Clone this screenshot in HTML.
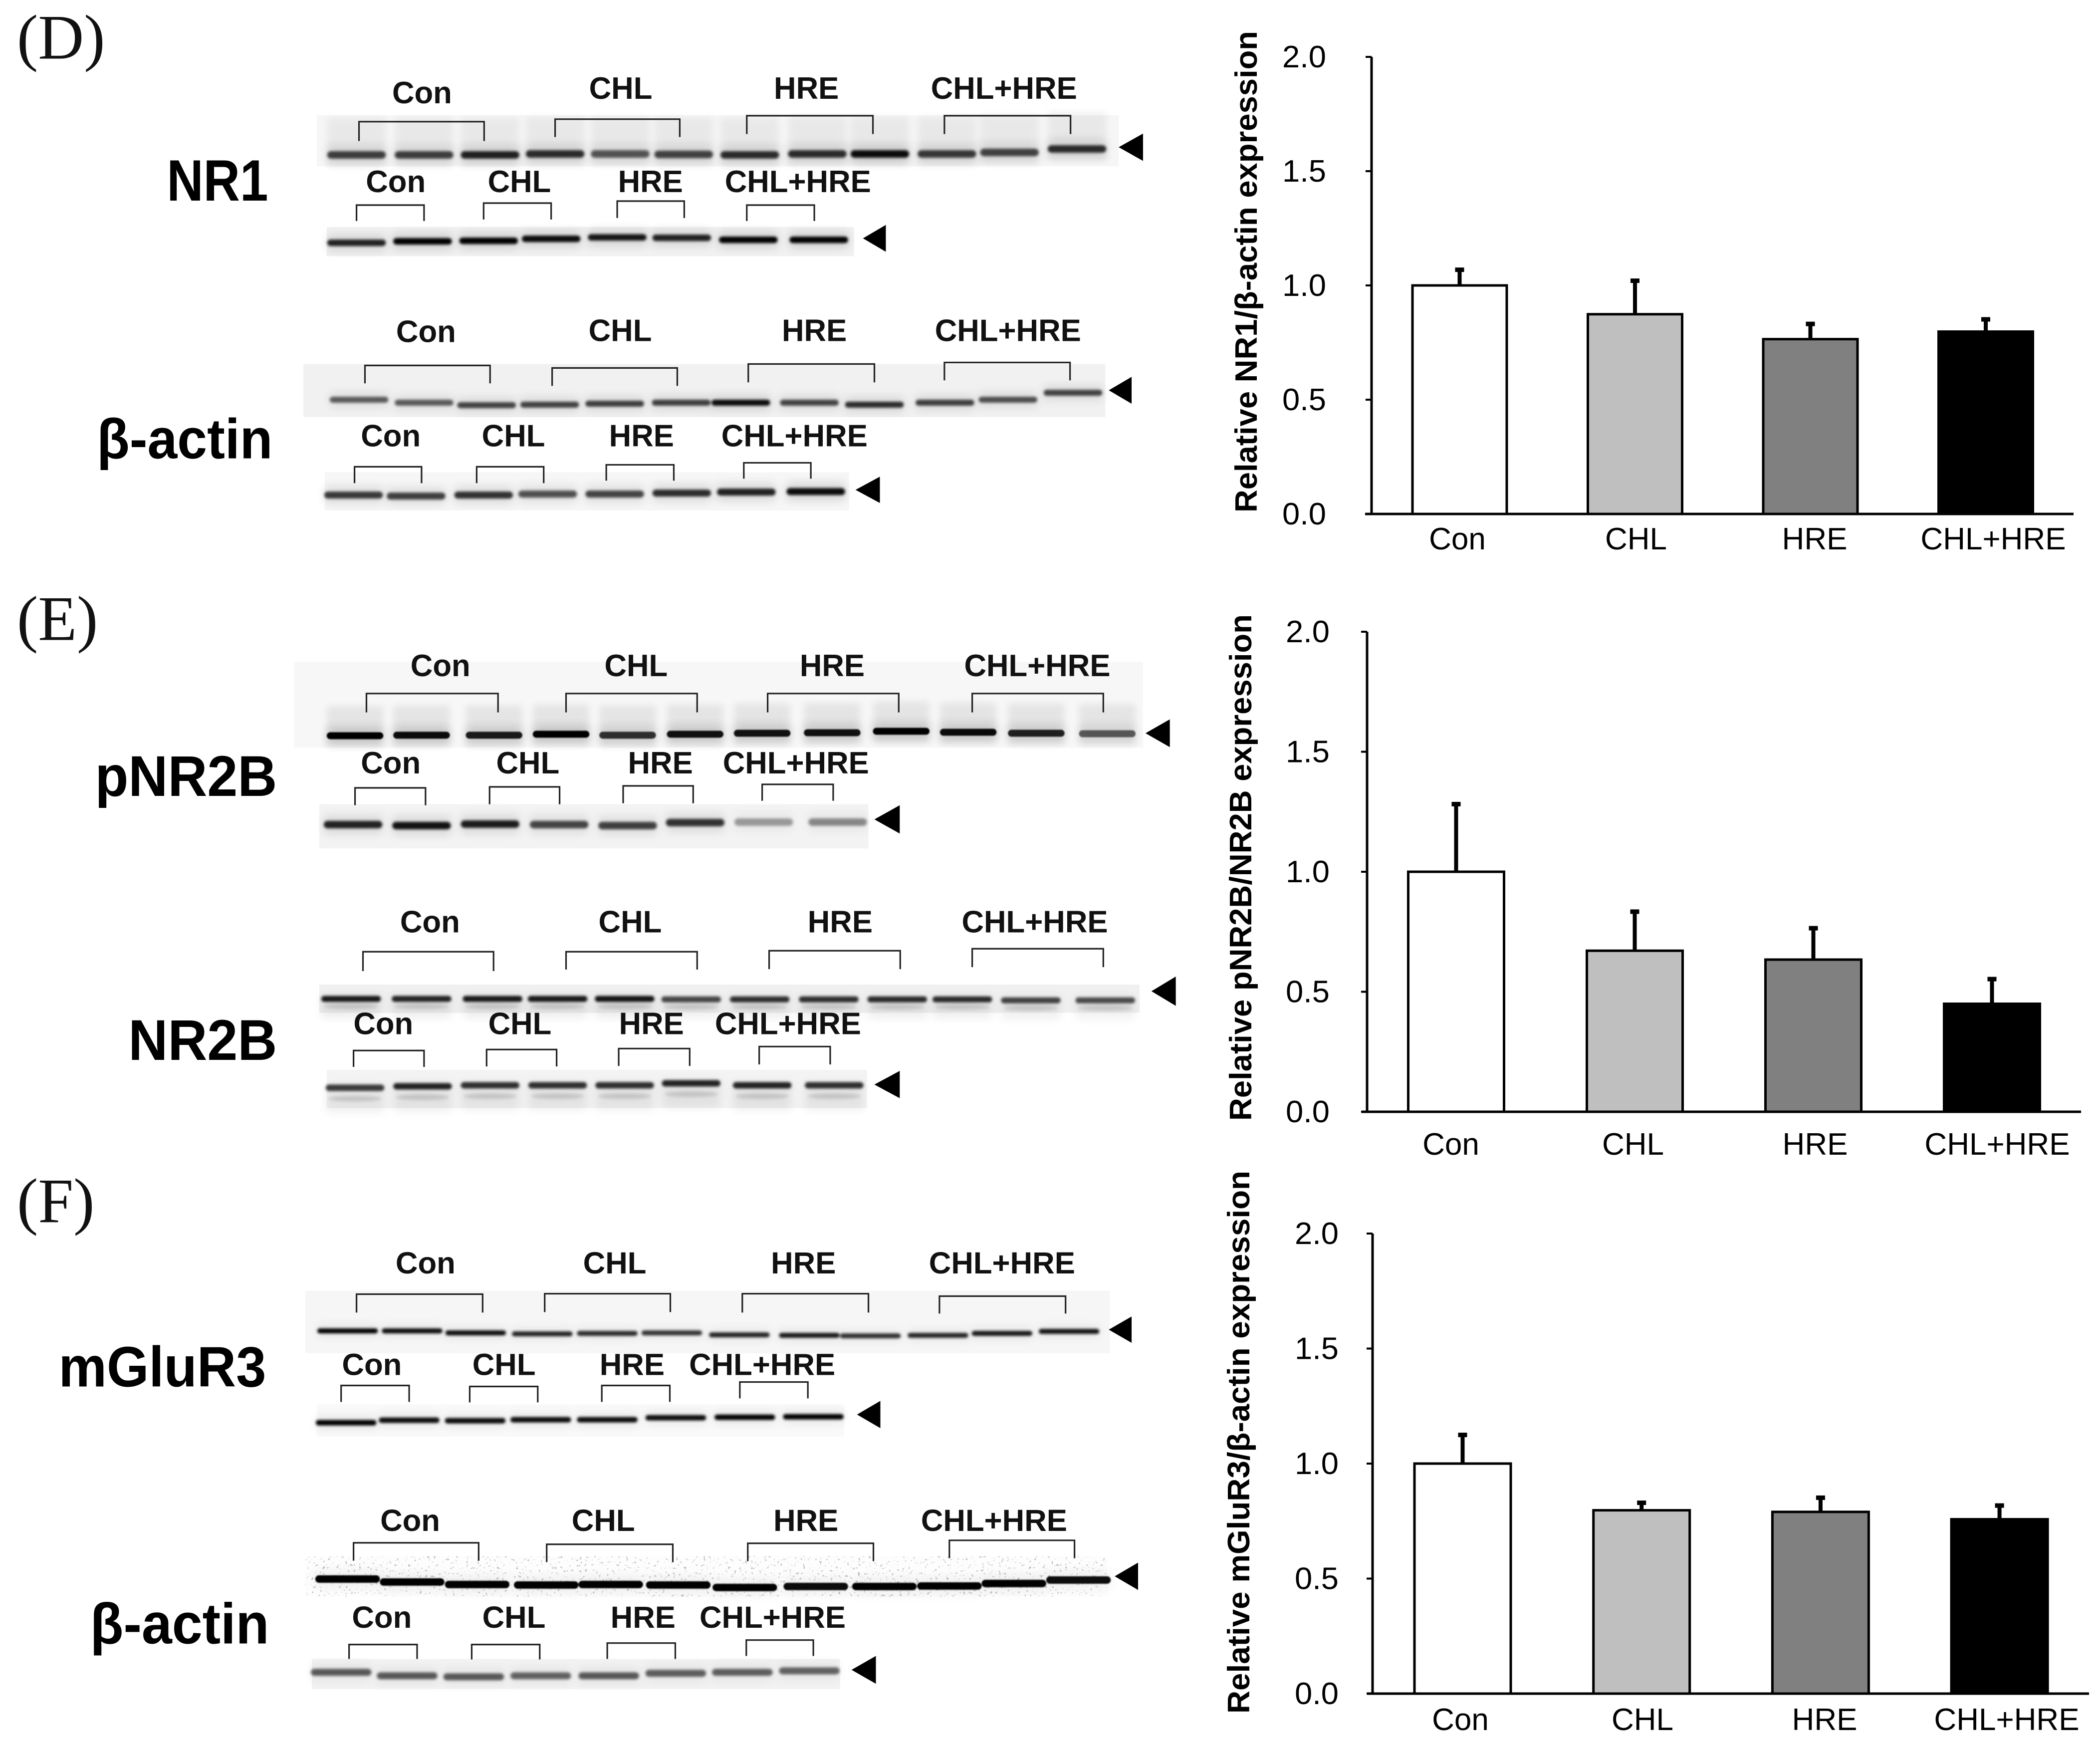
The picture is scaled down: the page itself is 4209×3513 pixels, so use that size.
<!DOCTYPE html>
<html lang="en">
<head>
<meta charset="utf-8">
<title>Western blots and relative expression bar charts</title>
<style>
html,body{margin:0;padding:0;background:#fff;}
svg{display:block;}
text{font-family:"Liberation Sans",sans-serif;fill:#000;}
.panel{font-family:"Liberation Serif",serif;font-size:128px;fill:#111;}
.side{font-weight:bold;text-anchor:end;}
.glabel{font-weight:bold;font-size:62px;text-anchor:middle;fill:#111;}
.tick{font-size:62px;text-anchor:end;}
.cat{font-size:62px;text-anchor:middle;}
.ytitle{font-weight:bold;font-size:62px;}
</style>
</head>
<body>
<svg id="fig" xmlns="http://www.w3.org/2000/svg" width="4209" height="3513" viewBox="0 0 4209 3513">
  <defs>
    <filter id="coreBlur" x="-5%" y="-30%" width="110%" height="160%"><feGaussianBlur stdDeviation="2.6"/></filter>
    <filter id="sharpBlur" x="-5%" y="-30%" width="110%" height="160%"><feGaussianBlur stdDeviation="1.1"/></filter>
    <filter id="haloBlur" x="-5%" y="-60%" width="110%" height="220%"><feGaussianBlur stdDeviation="9"/></filter>
    <filter id="smearBlur" x="-5%" y="-30%" width="110%" height="160%"><feGaussianBlur stdDeviation="7"/></filter>
    <filter id="speckle" x="0" y="0" width="100%" height="100%">
      <feTurbulence type="fractalNoise" baseFrequency="0.18" numOctaves="2" seed="7"/>
      <feColorMatrix type="matrix" values="0 0 0 0 0.3  0 0 0 0 0.3  0 0 0 0 0.3  0 0 0 8 -5.2"/>
    </filter>
  </defs>
  <rect x="0" y="0" width="4209" height="3513" fill="#fff"/>
  <g id="panelD" transform="scale(.9952 .9951)">
    <text class="panel" x="34" y="118">(D)</text>
    <text class="side" font-size="102" transform="translate(540 404) scale(1 1.15)">NR1</text>
    <text class="side" font-size="108" transform="translate(549 923) scale(1 1.05)">β-actin</text>
  </g>
  <g id="panelE" transform="translate(0 5.6) scale(.9952 .9951)">
    <text class="panel" x="34" y="1283">(E)</text>
    <text class="side" font-size="110" transform="translate(558 1597) scale(1 1.05)">pNR2B</text>
    <text class="side" font-size="110" transform="translate(558 2129) scale(1 1.05)">NR2B</text>
  </g>
  <g id="panelF" transform="translate(0 12.8) scale(.9952 .9945)">
    <text class="panel" x="34" y="2450">(F)</text>
    <text class="side" font-size="109" transform="translate(536 2781) scale(1 1.05)">mGluR3</text>
    <text class="side" font-size="110" transform="translate(542 3299) scale(1 1.05)">β-actin</text>
  </g>
  <g id="charts"></g>
</svg>
<script>
// ---- chart data ----
const categories = ['Con', 'CHL', 'HRE', 'CHL+HRE'];
const tickValues = [0, 0.5, 1, 1.5, 2];
const tickLabels = ['0.0', '0.5', '1.0', '1.5', '2.0'];
const nr1Values = [1.0, 0.874, 0.765, 0.798];
const nr1Errors = [0.074, 0.152, 0.072, 0.059];
const pnr2bValues = [1.0, 0.671, 0.634, 0.45];
const pnr2bErrors = [0.287, 0.168, 0.136, 0.108];
const mglur3Values = [1.0, 0.797, 0.79, 0.758];
const mglur3Errors = [0.13, 0.038, 0.067, 0.065];
const barFills = ['#ffffff', '#bfbfbf', '#808080', '#000000'];

const NS = 'http://www.w3.org/2000/svg';
function mk(tag, attrs, parent) {
  const el = document.createElementNS(NS, tag);
  for (const k in attrs) el.setAttribute(k, attrs[k]);
  parent.appendChild(el);
  return el;
}

// ---- chart drawing ----
function drawChart(key, title, values, errors, L) {
  const root = document.getElementById('charts');
  const g = mk('g', {}, root);
  
  
  const yScale = v => L.yZero - v * L.unit;
  const xScale = i => L.firstCenter + i * L.step;
  const labelX = i => L.labelStart + i * L.labelStep;

  const yAxis = mk('line', {x1: L.axisX, x2: L.axisX, y1: yScale(2), y2: yScale(0), stroke: '#000', 'stroke-width': 5}, g);
  
  

  tickValues.forEach((v, i) => {
    const t = mk('line', {x1: L.axisX - 12, x2: L.axisX, y1: yScale(v), y2: yScale(v), stroke: '#000', 'stroke-width': 4}, g);
    
    
    const lb = mk('text', {class: 'tick', x: L.tickRight, y: yScale(v) + 21, textLength: 88, lengthAdjust: 'spacingAndGlyphs'}, g);
    lb.textContent = tickLabels[i];
    
    
  });

  categories.forEach((c, i) => {
    const cx = xScale(i);
    const top = yScale(values[i]);
    const errTop = yScale(values[i] + errors[i]);
    const stem = mk('line', {x1: cx, x2: cx, y1: top, y2: errTop, stroke: '#000', 'stroke-width': 8}, g);
    
    
    const cap = mk('rect', {x: cx - 9, y: errTop - 2, width: 18, height: 9, fill: '#000'}, g);
    
    
    const bar = mk('rect', {x: cx - L.barW / 2, y: top, width: L.barW, height: yScale(0) - top, fill: barFills[i], stroke: '#000', 'stroke-width': 5}, g);
    
    
    const lb = mk('text', {class: 'cat', x: labelX(i), y: L.catY}, g);
    lb.textContent = c;
    
    
  });

  const xAxis = mk('line', {x1: L.xStart, x2: L.xEnd, y1: yScale(0), y2: yScale(0), stroke: '#000', 'stroke-width': 5}, g);
  
  

  const yt = mk('text', {class: 'ytitle', transform: 'translate(' + L.titleX + ' ' + L.titleBottom + ') rotate(-90)', textLength: L.titleLen, lengthAdjust: 'spacingAndGlyphs'}, g);
  yt.textContent = title;
  
  
}

drawChart('nr1', 'Relative NR1/β-actin expression', nr1Values, nr1Errors,
  {axisX: 2749, yZero: 1030, unit: 458, firstCenter: 2925.5, step: 351.5, barW: 189, xStart: 2736, xEnd: 4156, tickRight: 2658, labelStart: 2921, labelStep: 358, catY: 1101, titleX: 2519, titleBottom: 1027, titleLen: 965});
drawChart('pnr2b', 'Relative pNR2B/NR2B expression', pnr2bValues, pnr2bErrors,
  {axisX: 2740, yZero: 2228, unit: 481, firstCenter: 2918.5, step: 358, barW: 192, xStart: 2729, xEnd: 4171, tickRight: 2665, labelStart: 2908, labelStep: 365, catY: 2314, titleX: 2508, titleBottom: 2246, titleLen: 1015});
drawChart('mglur3', 'Relative mGluR3/β-actin expression', mglur3Values, mglur3Errors,
  {axisX: 2751, yZero: 3394, unit: 461, firstCenter: 2931.5, step: 358.7, barW: 193, xStart: 2740, xEnd: 4187, tickRight: 2683, labelStart: 2927, labelStep: 365, catY: 3467, titleX: 2504, titleBottom: 3434, titleLen: 1088});

// ---- western-blot image panels (page layout, not chart data) ----
let currentPanel = document.getElementById('panelD');
function gel(name, bg, xs, ys, dk, bw, th, arrow, brackets, labels, labelY, opts) {
  opts = opts || {};
  const g = mk('g', {}, currentPanel);
  
  

  const r = mk('rect', {x: bg[0], y: bg[1], width: bg[2], height: bg[3], fill: opts.bg || '#f3f3f3'}, g);
  
  

  if (opts.speckle) {
    const s = mk('rect', {x: bg[0], y: bg[1], width: bg[2], height: bg[3], filter: 'url(#speckle)', opacity: 0.6}, g);
    
    
  }

  if (opts.smear) {
    const sm = mk('g', {fill: '#000', opacity: opts.smear, filter: 'url(#smearBlur)'}, g);
    
    
    xs.forEach((x, i) => mk('rect', {x: x - bw / 2, y: ys[i] - (opts.smearH || 70), width: bw, height: (opts.smearH || 70) + 22}, sm));
  }

  const halo = mk('g', {filter: 'url(#haloBlur)', opacity: opts.halo || 0.16}, g);
  
  
  const core = mk('g', {filter: opts.sharp ? 'url(#sharpBlur)' : 'url(#coreBlur)'}, g);
  
  
  xs.forEach((x, i) => {
    mk('rect', {x: x - bw / 2, y: ys[i] - th * 1.3 + (opts.second || 0) / 2, width: bw, height: th * 2.6 + (opts.second || 0), fill: '#000', 'fill-opacity': dk[i] * 0.8}, halo);
    const b = mk('rect', {x: x - bw / 2, y: ys[i] - th / 2, width: bw, height: th, rx: th / 2, ry: th / 2, fill: '#050505', 'fill-opacity': dk[i]}, core);
    
    
    if (opts.second) {
      const b2 = mk('ellipse', {cx: x, cy: ys[i] + opts.second, rx: bw / 2 - 6, ry: th / 2.4, fill: '#333', 'fill-opacity': 0.16}, core);
      
      
    }
  });

  const a = mk('polygon', {points: arrow[0] + ',' + (arrow[1] + arrow[3] / 2) + ' ' + (arrow[0] + arrow[2]) + ',' + arrow[1] + ' ' + (arrow[0] + arrow[2]) + ',' + (arrow[1] + arrow[3]), fill: '#000'}, g);
  
  

  brackets.forEach((bk, i) => {
    const p = mk('path', {d: 'M' + bk[0] + ' ' + bk[3] + 'V' + bk[2] + 'H' + bk[1] + 'V' + bk[3], fill: 'none', stroke: '#222', 'stroke-width': 3.2}, g);
    
    
    const t = mk('text', {class: 'glabel', x: labels[i], y: Array.isArray(labelY) ? labelY[i] : labelY}, g);
    t.textContent = categories[i];
    
    
  });
}

gel('nr1-upper', [638, 232, 1615, 103],
  [718, 854, 987, 1118, 1249, 1377, 1510, 1646, 1772, 1907, 2033, 2169],
  [312, 312, 312, 310, 310, 311, 312, 310, 310, 310, 307, 300],
  [.72, .72, .85, .8, .62, .7, .8, .8, .95, .75, .7, .8], 118, 15,
  [2253, 269, 49, 55],
  [[723, 975, 245, 284], [1118, 1369, 240, 276], [1504, 1758, 233, 270], [1902, 2156, 233, 270]],
  [850, 1250, 1624, 2022], [208, 199, 199, 199], {smear: .05, smearH: 75, bg: '#f6f6f6'});

gel('nr1-lower', [658, 457, 1062, 59],
  [718, 851, 984, 1110, 1243, 1373, 1507, 1649],
  [489, 486, 485, 481, 478, 479, 483, 483],
  [.85, 1, 1, .95, .9, .85, 1, 1], 118, 13,
  [1738, 453, 46, 54],
  [[718, 854, 413, 445], [974, 1110, 409, 442], [1243, 1378, 405, 439], [1504, 1640, 413, 445]],
  [797, 1046, 1310, 1607], 387, {bg: '#f1f1f1'});

gel('beta-actin-d-upper', [611, 733, 1615, 107],
  [723, 854, 980, 1107, 1238, 1372, 1492, 1630, 1761, 1903, 2030, 2161],
  [805, 811, 816, 815, 813, 811, 811, 811, 815, 811, 805, 791],
  [.6, .6, .7, .7, .72, .72, .95, .7, .8, .72, .65, .7], 118, 12,
  [2233, 759, 46, 54],
  [[735, 987, 736, 772], [1112, 1364, 741, 777], [1507, 1761, 733, 770], [1902, 2155, 730, 766]],
  [858, 1249, 1640, 2030], [689, 687, 687, 687], {bg: '#f1f1f1'});

gel('beta-actin-d-lower', [654, 951, 1056, 77],
  [712, 838, 974, 1103, 1238, 1373, 1503, 1643],
  [997, 999, 997, 995, 995, 993, 991, 990],
  [.75, .72, .78, .65, .7, .8, .85, .95], 118, 14,
  [1723, 960, 49, 53],
  [[714, 849, 940, 973], [960, 1095, 940, 973], [1221, 1357, 936, 968], [1498, 1633, 932, 964]],
  [787, 1034, 1292, 1600], 899, {bg: '#f6f6f6'});

currentPanel = document.getElementById('panelE');

gel('pnr2b-upper', [592, 1327, 1710, 173],
  [715, 849, 995, 1130, 1264, 1400, 1535, 1676, 1815, 1950, 2087, 2230],
  [1476, 1475, 1475, 1473, 1475, 1473, 1471, 1470, 1467, 1469, 1471, 1472],
  [1, .95, .88, 1, .78, .92, .92, .92, 1, .95, .85, .6], 114, 14,
  [2307, 1443, 49, 56],
  [[738, 1003, 1391, 1429], [1140, 1404, 1391, 1429], [1546, 1810, 1391, 1429], [1958, 2222, 1391, 1429]],
  [887, 1281, 1676, 2089], 1356, {smear: .07, smearH: 60, bg: '#f7f7f7', sharp: true});

gel('pnr2b-lower', [643, 1614, 1106, 89],
  [711, 849, 987, 1126, 1264, 1400, 1538, 1687],
  [1655, 1657, 1654, 1655, 1657, 1651, 1650, 1650],
  [.85, .92, .88, .7, .72, .78, .35, .42], 118, 15,
  [1761, 1616, 51, 57],
  [[715, 857, 1581, 1616], [986, 1127, 1579, 1614], [1255, 1396, 1577, 1612], [1535, 1678, 1574, 1607]],
  [787, 1063, 1330, 1603], 1552, {bg: '#f3f3f3', halo: .14});

gel('nr2b-upper', [643, 1977, 1652, 57],
  [707, 849, 992, 1123, 1258, 1392, 1530, 1669, 1807, 1938, 2076, 2226],
  [2006, 2006, 2006, 2006, 2006, 2007, 2007, 2007, 2007, 2007, 2009, 2009],
  [.9, .85, .9, .9, .92, .7, .8, .8, .82, .82, .72, .68], 120, 12,
  [2319, 1961, 49, 59],
  [[731, 994, 1911, 1950], [1140, 1404, 1911, 1947], [1549, 1813, 1909, 1946], [1958, 2222, 1905, 1942]],
  [866, 1269, 1692, 2084], 1872, {bg: '#f0f0f0', second: 15, halo: .1});

gel('nr2b-lower', [658, 2149, 1088, 77],
  [715, 851, 987, 1123, 1258, 1392, 1535, 1680],
  [2185, 2182, 2180, 2180, 2180, 2176, 2180, 2180],
  [.75, .85, .8, .8, .8, .85, .85, .8], 118, 13,
  [1761, 2151, 51, 55],
  [[712, 854, 2110, 2143], [980, 1121, 2108, 2142], [1246, 1389, 2106, 2141], [1529, 1672, 2102, 2138]],
  [772, 1047, 1312, 1587], 2077, {bg: '#f3f3f3', second: 22, halo: .1});

currentPanel = document.getElementById('panelF');

gel('mglur3-upper', [615, 2588, 1620, 126],
  [700, 830, 958, 1092, 1223, 1353, 1489, 1630, 1753, 1889, 2018, 2153],
  [2669, 2669, 2673, 2675, 2674, 2673, 2677, 2678, 2679, 2678, 2674, 2670],
  [1, .95, .95, .85, .82, .78, .85, .9, .8, .85, .9, .92], 122, 10,
  [2233, 2640, 46, 53],
  [[718, 972, 2595, 2632], [1097, 1350, 2594, 2631], [1495, 1749, 2594, 2632], [1892, 2146, 2599, 2634]],
  [857, 1238, 1618, 2018], 2553, {bg: '#f6f6f6', halo: .08});

gel('mglur3-lower', [638, 2817, 1062, 65],
  [697, 824, 957, 1089, 1223, 1361, 1500, 1638],
  [2854, 2849, 2850, 2848, 2848, 2844, 2843, 2842],
  [1, .95, .95, .95, .95, .95, 1, 1], 122, 11,
  [1726, 2810, 47, 55],
  [[687, 824, 2779, 2812], [946, 1083, 2781, 2813], [1212, 1349, 2779, 2812], [1490, 1627, 2772, 2805]],
  [749, 1015, 1273, 1535], 2758, {bg: '#f9f9f9', halo: .08});

gel('beta-actin-f-upper', [615, 3123, 1615, 81],
  [700, 830, 961, 1100, 1230, 1366, 1500, 1643, 1781, 1912, 2042, 2172],
  [3169, 3175, 3180, 3181, 3180, 3181, 3186, 3184, 3184, 3183, 3178, 3171],
  [1, 1, 1, 1, 1, 1, 1, .95, 1, 1, 1, .95], 130, 15,
  [2245, 3136, 47, 55],
  [[712, 964, 3096, 3132], [1101, 1355, 3099, 3135], [1506, 1759, 3097, 3133], [1912, 2164, 3091, 3127]],
  [826, 1215, 1623, 2002], 3072, {bg: '#fdfdfd', speckle: true, halo: .06, sharp: true});

gel('beta-actin-f-lower', [628, 3330, 1064, 61],
  [687, 820, 954, 1089, 1226, 1361, 1495, 1630],
  [3357, 3364, 3366, 3364, 3364, 3359, 3357, 3354],
  [.62, .62, .62, .58, .62, .6, .6, .58], 122, 14,
  [1715, 3324, 49, 56],
  [[703, 840, 3301, 3330], [950, 1087, 3301, 3331], [1223, 1360, 3298, 3330], [1503, 1638, 3292, 3324]],
  [769, 1035, 1295, 1556], 3267, {bg: '#f2f2f2', halo: .1});
</script>
</body>
</html>
